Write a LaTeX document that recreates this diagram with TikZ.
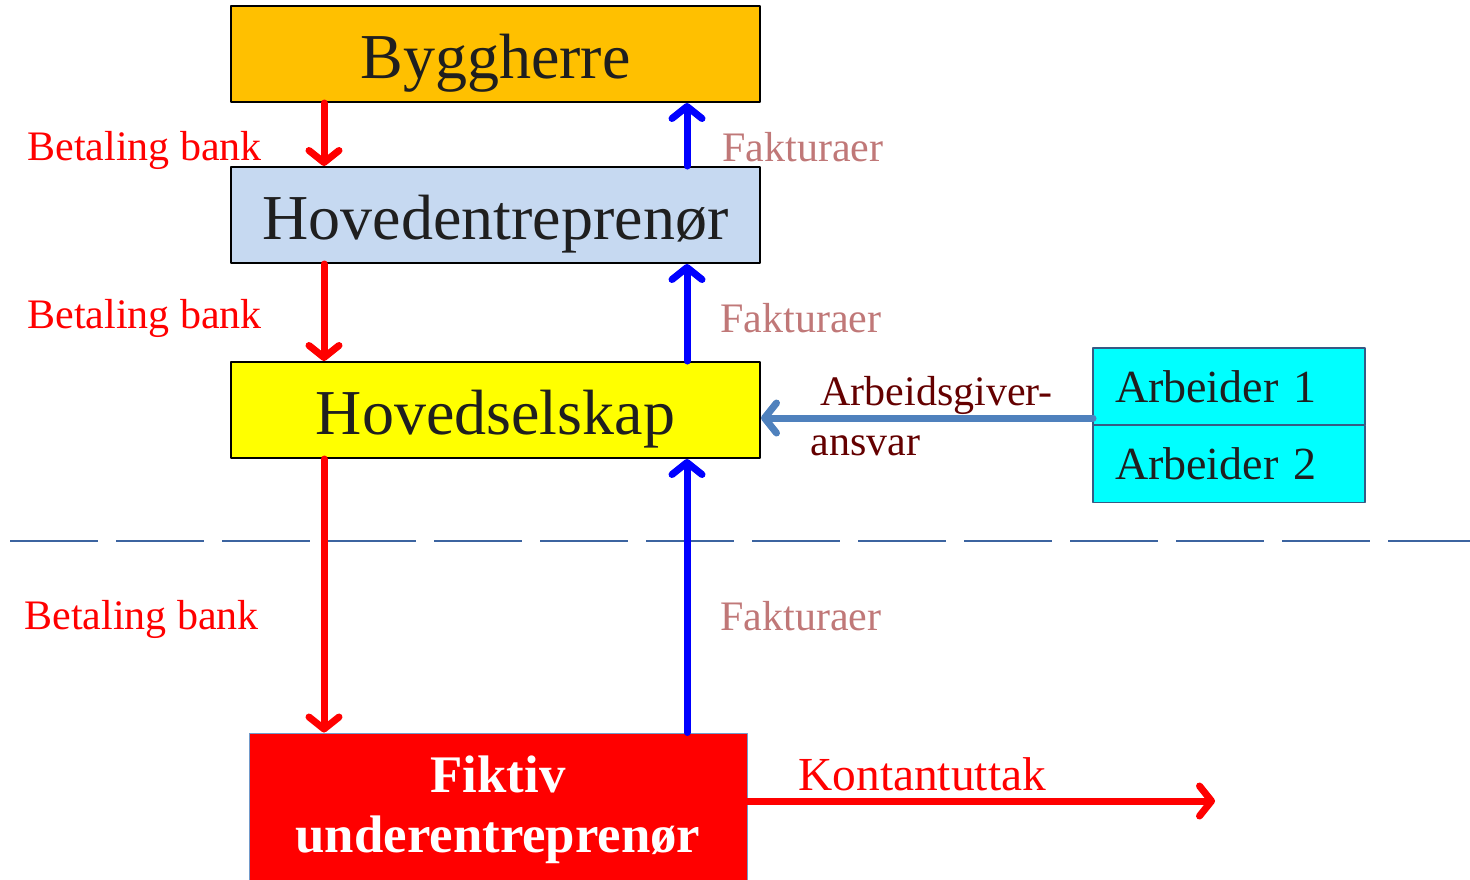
\documentclass[tikz,border=0pt]{standalone}
\usepackage{fontspec}
\setmainfont{Liberation Serif}
\usetikzlibrary{arrows.meta}
\definecolor{orangebox}{RGB}{255,192,0}
\definecolor{bluebox}{RGB}{198,217,241}
\definecolor{yellowbox}{RGB}{255,255,0}
\definecolor{cyanbox}{RGB}{0,255,255}
\definecolor{redbox}{RGB}{255,0,0}
\definecolor{steel}{RGB}{79,129,189}
\definecolor{rose}{RGB}{192,120,120}
\definecolor{darkred}{RGB}{100,0,0}
\definecolor{dashblue}{RGB}{60,100,160}
\definecolor{payred}{RGB}{255,0,0}
\definecolor{invblue}{RGB}{0,0,255}
\begin{document}
\begin{tikzpicture}[x=0.5pt,y=-0.5pt, line join=round, line cap=round,
	box/.style={draw=black, line width=1pt, minimum width=264.5pt, minimum height=48pt,
		text height=26pt, text depth=2pt, text=black!88, font=\fontsize{32}{38}\selectfont},
	worker/.style={draw=steel!70!black, fill=cyanbox, line width=0.6pt, minimum width=136pt,
		minimum height=38.5pt, inner xsep=11pt, text width=114pt, align=left,
		text=black!88, font=\fontsize{23}{28}\selectfont},
	pay/.style={payred, line width=3.5pt, -{Straight Barb[round,length=6pt,width=15pt]}},
	inv/.style={invblue, line width=3.5pt, -{Straight Barb[round,length=6pt,width=15pt]}},
	emp/.style={steel, line width=3.5pt, -{Straight Barb[round,length=6pt,width=15pt]}},
	lab/.style={inner sep=0pt, anchor=base west, font=\fontsize{21}{25}\selectfont}]
	\useasboundingbox (0,0) rectangle (1470,879);
	% bokser
	\node[box, fill=orangebox] (bygg) at (495.5,54) {Byggherre};
	\node[box, fill=bluebox] (hoved) at (495.5,215) {Hovedentreprenør};
	\node[box, fill=yellowbox] (selsk) at (495.5,410) {Hovedselskap};
	\node[worker] (arb1) at (1229,386.5) {Arbeider 1};
	\node[worker] (arb2) at (1229,464) {Arbeider 2};
	\node[draw=steel!80, line width=0.5pt, fill=redbox, minimum width=249pt, minimum height=77pt,
		text=white, align=center, font=\bfseries\fontsize{26.4}{32}\selectfont]
		(fiktiv) at (498,810) {\raisebox{-5pt}{Fiktiv}\\\raisebox{-3pt}{underentreprenør}};
	% skillelinje
	\draw[dashblue, line width=1pt, line cap=butt, dash pattern=on 44pt off 9pt] (10,541) -- (1470,541);
	% piler
	\coordinate (xr) at (324,0);
	\coordinate (xb) at (687,0);
	\coordinate (ag) at (1093,418);
	\coordinate (cash) at (1215,801);
	\draw[pay] (bygg.south -| xr) -- (hoved.north -| xr);
	\draw[pay] (hoved.south -| xr) -- (selsk.north -| xr);
	\draw[pay] (selsk.south -| xr) -- (fiktiv.north -| xr);
	\draw[inv] (hoved.north -| xb) -- (bygg.south -| xb);
	\draw[inv] (selsk.north -| xb) -- (hoved.south -| xb);
	\draw[inv] (fiktiv.north -| xb) -- (selsk.south -| xb);
	\draw[emp] (ag) -- (selsk.east |- ag);
	\draw[pay] (fiktiv.east |- cash) -- (cash);
	% tekster
	\node[lab, payred] (bet1) at (27,160) {Betaling bank};
	\node[lab, payred] (bet2) at (27,328) {Betaling bank};
	\node[lab, payred] (bet3) at (24,629) {Betaling bank};
	\node[lab, rose] (fak1) at (722,161) {Fakturaer};
	\node[lab, rose] (fak2) at (720,332) {Fakturaer};
	\node[lab, rose] (fak3) at (720,630) {Fakturaer};
	\node[lab, darkred] (agans1) at (820,405) {Arbeidsgiver-};
	\node[lab, darkred] (agans2) at (810,455) {ansvar};
	\node[lab, payred, font=\fontsize{23.7}{28}\selectfont] (kont) at (798,790) {Kontantuttak};
\end{tikzpicture}
\end{document}
